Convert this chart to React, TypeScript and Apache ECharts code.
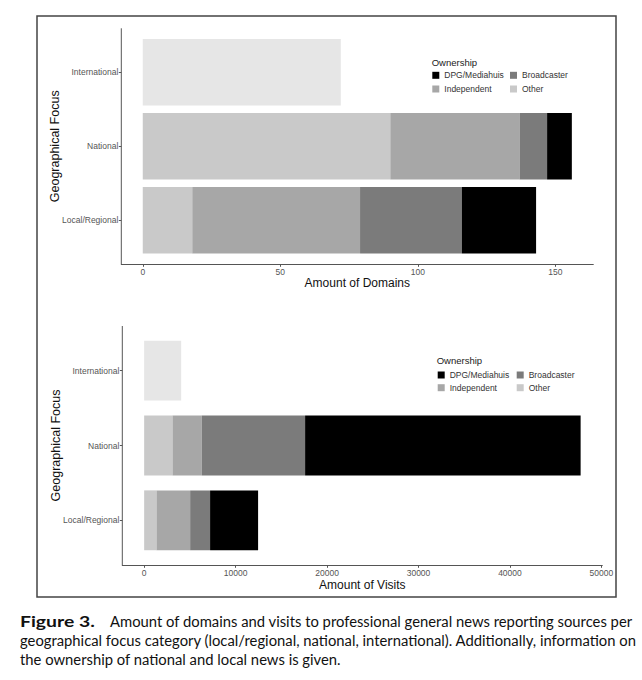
import React, { useEffect, useRef } from "react";
import * as echarts from "echarts";

// ---- data ----
const categories = ["Local/Regional", "National", "International"];
const ownershipNames = ["Other", "Independent", "Broadcaster", "DPG/Mediahuis"];

const domainsOther = [18, 90, 72];
const domainsIndependent = [61, 47, null];
const domainsBroadcaster = [37, 10, null];
const domainsDPG = [27, 9, null];

const visitsOther = [1350, 3100, 4050];
const visitsIndependent = [3680, 3200, null];
const visitsBroadcaster = [2180, 11300, null];
const visitsDPG = [5250, 30130, null];

const domainTicks = [0, 50, 100, 150];
const visitTicks = [0, 10000, 20000, 30000, 40000, 50000];

// ---- styles ----
const colors: Record<string, string> = {
  Other: "#c9c9c9",
  Independent: "#a7a7a7",
  Broadcaster: "#7b7b7b",
  "DPG/Mediahuis": "#000000",
};
const internationalColor = "#e6e6e6";
const FONT = "Liberation Sans";
const CAPTION_FONT = "Lato";
const AXIS_COLOR = "#555555";
const TICK_TEXT = "#555555";

function buildSeries(
  gridIndex: number,
  values: Array<Array<number | null>>,
  gap: string
) {
  return ownershipNames.map((name, i) => ({
    type: "bar",
    name,
    stack: "s" + gridIndex,
    xAxisIndex: gridIndex,
    yAxisIndex: gridIndex,
    barCategoryGap: gap,
    itemStyle: { color: colors[name] },
    data: values[i].map((v, ci) =>
      name === "Other" && categories[ci] === "International"
        ? { value: v, itemStyle: { color: internationalColor } }
        : v
    ),
  }));
}

function xAxisCfg(gridIndex: number, min: number, max: number, ticks: number[], offset: number, name: string, nameGap: number) {
  return {
    gridIndex,
    type: "value",
    min,
    max,
    offset,
    splitLine: { show: false },
    axisLine: { show: true, onZero: false, lineStyle: { color: AXIS_COLOR, width: 1 } },
    axisTick: { show: true, length: 2.5, customValues: ticks, lineStyle: { color: AXIS_COLOR, width: 1 } },
    axisLabel: {
      customValues: ticks,
      fontSize: 8.5,
      color: TICK_TEXT,
      margin: 3,
      fontFamily: FONT,
      formatter: (v: number) => String(v),
    },
    name,
    nameLocation: "middle",
    nameGap,
    nameMoveOverlap: false,
    nameTextStyle: { fontSize: 12, color: "#111111", fontFamily: FONT },
  };
}

function yAxisCfg(gridIndex: number) {
  return {
    gridIndex,
    type: "category",
    data: categories,
    axisLine: { show: false, onZero: false },
    axisTick: { show: true, alignWithLabel: true, length: 2.5, lineStyle: { color: AXIS_COLOR, width: 1 } },
    axisLabel: { fontSize: 8.5, color: TICK_TEXT, margin: 3, fontFamily: FONT },
    name: "Geographical Focus",
    nameLocation: "middle",
    nameRotate: 90,
    nameGap: 60,
    nameMoveOverlap: false,
    nameTextStyle: { fontSize: 12.5, color: "#111111", fontFamily: FONT },
  };
}

function legendCfg(data: string[], left: number, top: number, gap: number) {
  return {
    data,
    orient: "vertical",
    left,
    top,
    padding: 0,
    icon: "rect",
    itemWidth: 7,
    itemHeight: 7,
    itemGap: gap,
    selectedMode: false,
    textStyle: { fontSize: 8.5, color: "#333333", fontFamily: FONT, lineHeight: 10 },
  };
}

export default function App() {
  const ref = useRef<HTMLDivElement>(null);
  useEffect(() => {
    document.body.style.margin = "0";
    const chart = echarts.init(ref.current!, null, { renderer: "svg" });
    const option: any = {
      animation: false,
      backgroundColor: "#ffffff",
      textStyle: { fontFamily: FONT },
      title: [
        {
          text: "Ownership",
          left: 431.7,
          top: 57.5,
          padding: 0,
          textStyle: { fontSize: 9.5, fontWeight: "normal", color: "#222222", fontFamily: FONT },
        },
        {
          text: "Ownership",
          left: 436.7,
          top: 355,
          padding: 0,
          textStyle: { fontSize: 9.5, fontWeight: "normal", color: "#222222", fontFamily: FONT },
        },
      ],
      legend: [
        legendCfg(["DPG/Mediahuis", "Independent"], 432.3, 70.3, 3.7),
        legendCfg(["Broadcaster", "Other"], 510, 70.3, 3.7),
        legendCfg(["DPG/Mediahuis", "Independent"], 437.7, 370, 2.7),
        legendCfg(["Broadcaster", "Other"], 516.7, 370, 2.7),
      ],
      grid: [
        { left: 121.3, top: 35.3, width: 472, height: 222, outerBoundsMode: "none" },
        { left: 122.3, top: 333.3, width: 480, height: 224.4, outerBoundsMode: "none" },
      ],
      xAxis: [
        xAxisCfg(0, -7.8, 163.8, domainTicks, 7, "Amount of Domains", 13),
        xAxisCfg(1, -2390, 50100, visitTicks, 7.6, "Amount of Visits", 13.7),
      ],
      yAxis: [yAxisCfg(0), yAxisCfg(1)],
      series: [
        ...buildSeries(0, [domainsOther, domainsIndependent, domainsBroadcaster, domainsDPG], "10%"),
        ...buildSeries(1, [visitsOther, visitsIndependent, visitsBroadcaster, visitsDPG], "20%"),
      ],
      graphic: [
        {
          type: "rect",
          shape: { x: 37, y: 16, width: 579, height: 581 },
          style: { fill: "none", stroke: "#444444", lineWidth: 1.5 },
        },
        {
          type: "line",
          shape: { x1: 121.3, y1: 28.3, x2: 121.3, y2: 264.3 },
          style: { stroke: AXIS_COLOR, lineWidth: 1 },
        },
        {
          type: "line",
          shape: { x1: 122.3, y1: 326, x2: 122.3, y2: 565.3 },
          style: { stroke: AXIS_COLOR, lineWidth: 1 },
        },
        {
          type: "text",
          x: 20,
          y: 613,
          scaleX: 1.25,
          style: {
            text: "Figure 3.",
            fontWeight: "bold",
            fontSize: 15.5,
            fontFamily: CAPTION_FONT,
            fill: "#111111",
          },
        },
        {
          type: "text",
          x: 110,
          y: 613,
          style: {
            text: "Amount of domains and visits to professional general news reporting sources per",
            fontSize: 14.8,
            fontFamily: CAPTION_FONT,
            fill: "#111111",
          },
        },
        {
          type: "text",
          x: 20,
          y: 632,
          style: {
            text: "geographical focus category (local/regional, national, international). Additionally, information on",
            fontSize: 14.8,
            fontFamily: CAPTION_FONT,
            fill: "#111111",
          },
        },
        {
          type: "text",
          x: 20,
          y: 651,
          style: {
            text: "the ownership of national and local news is given.",
            fontSize: 14.8,
            fontFamily: CAPTION_FONT,
            fill: "#111111",
          },
        },
      ],
    };
    chart.setOption(option);
    return () => chart.dispose();
  }, []);
  return <div ref={ref} style={{ width: 642, height: 680, background: "#ffffff" }} />;
}
